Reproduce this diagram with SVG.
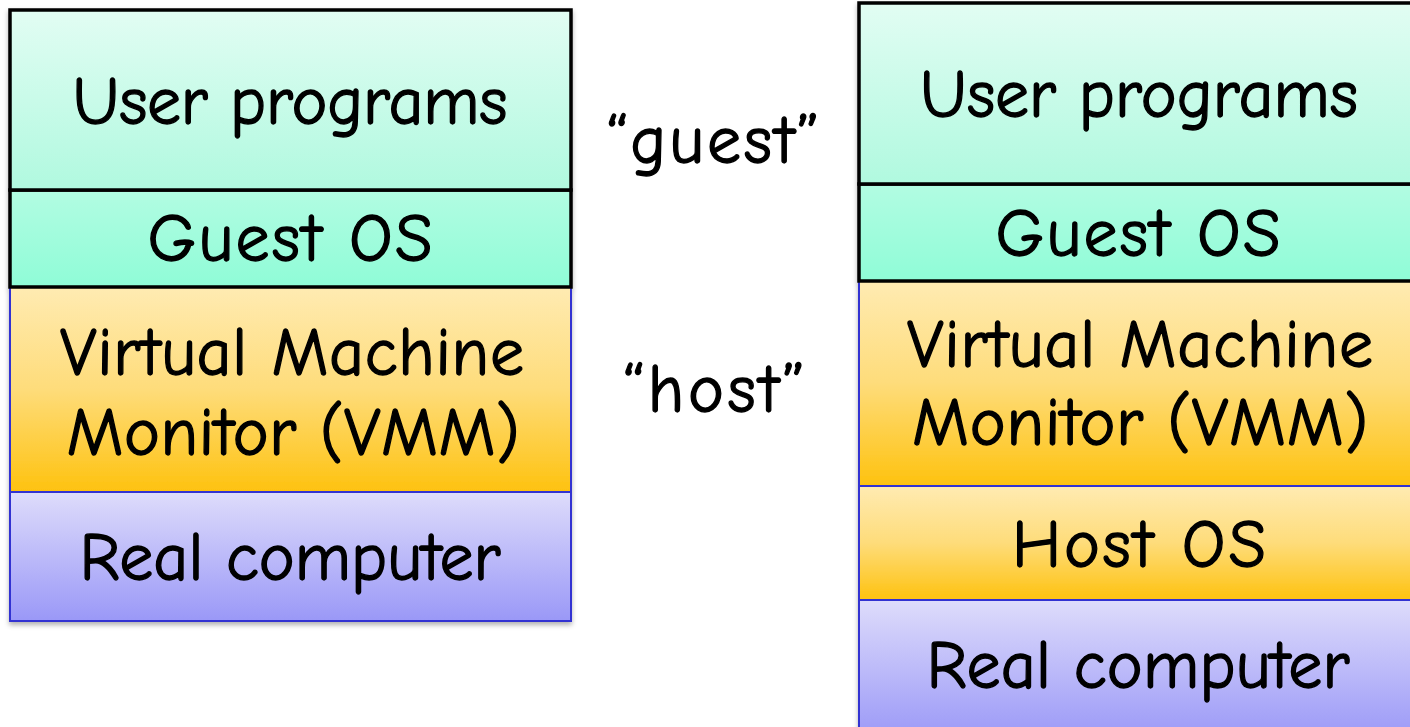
<svg xmlns="http://www.w3.org/2000/svg" width="1410" height="727" viewBox="0 0 1410 727">
<defs>
<linearGradient id="gUser" x1="0" y1="0" x2="0" y2="1"><stop offset="0" stop-color="#e2fdf3"/><stop offset="1" stop-color="#b0f9df"/></linearGradient>
<linearGradient id="gGuest" x1="0" y1="0" x2="0" y2="1"><stop offset="0" stop-color="#b2fce2"/><stop offset="1" stop-color="#8ffcd7"/></linearGradient>
<linearGradient id="gVmm" x1="0" y1="0" x2="0" y2="1"><stop offset="0" stop-color="#ffebb2"/><stop offset="0.5" stop-color="#fedc7a"/><stop offset="1" stop-color="#fec20f"/></linearGradient>
<linearGradient id="gReal" x1="0" y1="0" x2="0" y2="1"><stop offset="0" stop-color="#dedcfb"/><stop offset="1" stop-color="#9a98f7"/></linearGradient>
<filter id="sh" x="-5%" y="-5%" width="110%" height="115%"><feDropShadow dx="0" dy="3" stdDeviation="2.5" flood-color="#000" flood-opacity="0.3"/></filter>
</defs>
<style>
.t{font-family:"Comic Sans MS","Comic Neue","DejaVu Sans",sans-serif;font-size:68px;fill:#000;stroke:#000;stroke-width:1.3;text-anchor:middle}
.blk{stroke:#000;stroke-width:3.5}
.blu{stroke:#3232d2;stroke-width:2}
</style>
<rect width="1410" height="727" fill="#fff"/>
<g id="left" filter="url(#sh)">
<g id="l-real"><rect x="10" y="492" width="561" height="129" fill="url(#gReal)" class="blu"/><text class="t" x="290" y="580" textLength="421" lengthAdjust="spacing">Real computer</text></g>
<g id="l-vmm"><rect x="10" y="287" width="561" height="205" fill="url(#gVmm)" class="blu"/><text class="t" x="292" y="375" textLength="464" lengthAdjust="spacing">Virtual Machine</text><text class="t" x="293" y="455" textLength="453" lengthAdjust="spacing">Monitor (VMM)</text></g>
<g id="l-guest"><rect x="10" y="190" width="561" height="97" fill="url(#gGuest)" class="blk"/><text class="t" x="290" y="261" textLength="285" lengthAdjust="spacing">Guest OS</text></g>
<g id="l-user"><rect x="10" y="10" width="561" height="180" fill="url(#gUser)" class="blk"/><text class="t" x="290" y="124" textLength="435" lengthAdjust="spacing">User programs</text></g>
</g>
<g id="right" filter="url(#sh)">
<g id="r-real"><rect x="859" y="600" width="560" height="140" fill="url(#gReal)" class="blu"/><text class="t" x="1138" y="688" textLength="423" lengthAdjust="spacing">Real computer</text></g>
<g id="r-host"><rect x="859" y="486" width="560" height="114" fill="url(#gVmm)" class="blu"/><text class="t" x="1139" y="567" textLength="254" lengthAdjust="spacing">Host OS</text></g>
<g id="r-vmm"><rect x="859" y="281" width="560" height="205" fill="url(#gVmm)" class="blu"/><text class="t" x="1140" y="367" textLength="466" lengthAdjust="spacing">Virtual Machine</text><text class="t" x="1140" y="445" textLength="456" lengthAdjust="spacing">Monitor (VMM)</text></g>
<g id="r-guest"><rect x="859" y="184" width="560" height="97" fill="url(#gGuest)" class="blk"/><text class="t" x="1138" y="256" textLength="285" lengthAdjust="spacing">Guest OS</text></g>
<g id="r-user"><rect x="859" y="3" width="560" height="181" fill="url(#gUser)" class="blk"/><text class="t" x="1139" y="117" textLength="438" lengthAdjust="spacing">User programs</text></g>
</g>
<g id="labels">
<text class="t" x="713" y="163" textLength="213" lengthAdjust="spacing">“guest”</text>
<text class="t" x="714" y="412" textLength="182" lengthAdjust="spacing">“host”</text>
</g>
<g id="connectors"/>
</svg>
